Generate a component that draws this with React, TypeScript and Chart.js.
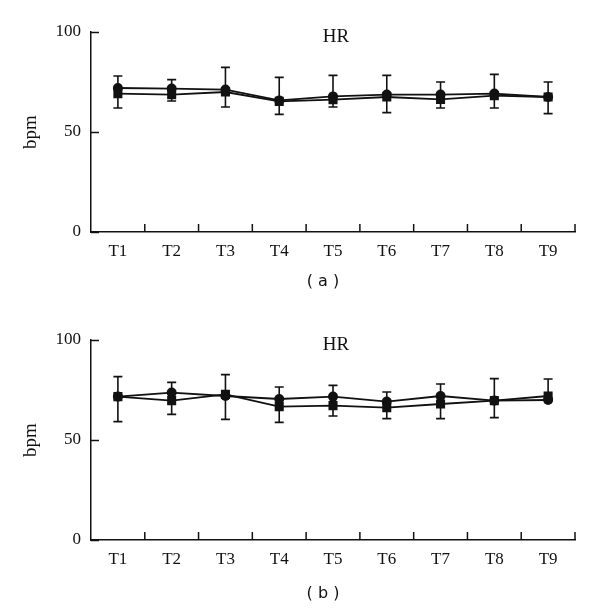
import React, { useEffect, useRef } from 'react';
import { Chart, registerables } from 'chart.js';

Chart.register(...registerables);

// ---- data ----
const categories = ['T1', 'T2', 'T3', 'T4', 'T5', 'T6', 'T7', 'T8', 'T9'];
const yTickValues = [0, 50, 100];

// panel (a)
const aCircle = [72, 71.7, 71.2, 65.8, 67.8, 68.7, 68.7, 69.2, 67.5];
const aCircleSD = [6, 4.5, 11.1, 11.5, 10.5, 9.6, 6.3, 9.6, 7.5];
const aSquare = [69.2, 68.7, 70, 65.3, 66.2, 67.5, 66.3, 68.2, 67.5];
const aSquareSD = [7.2, 3.2, 7.5, 6.5, 3.7, 7.8, 4.3, 6.2, 8.3];

// panel (b)
const bCircle = [71.7, 73.7, 72, 70.5, 71.7, 69.2, 72, 69.7, 70];
const bCircleSD = [10, 5.1, 10.7, 6, 5.6, 4.8, 6, 11, 10.5];
const bSquare = [71.7, 69.7, 72.8, 66.7, 67.2, 66.2, 68, 69.7, 72];
const bSquareSD = [12.5, 6.9, 12.5, 7.9, 5.2, 5.5, 7.3, 8.5, 1];

const SERIF = '"Liberation Serif", "DejaVu Serif", serif';
const INK = '#111';

const errorBarsPlugin = {
  id: 'errorBars',
  beforeDatasetsDraw(chart: any) {
    const { ctx } = chart;
    const ys = chart.scales.y;
    ctx.save();
    ctx.strokeStyle = INK;
    ctx.lineWidth = 1.6;
    chart.data.datasets.forEach((ds: any, di: number) => {
      const meta = chart.getDatasetMeta(di);
      meta.data.forEach((pt: any, i: number) => {
        const v = ds.data[i];
        const up = ds.errorPlus ? ds.errorPlus[i] : 0;
        const down = ds.errorMinus ? ds.errorMinus[i] : 0;
        const x = pt.x;
        const y0 = ys.getPixelForValue(v);
        const segs: number[] = [];
        if (up) segs.push(ys.getPixelForValue(v + up));
        if (down) segs.push(ys.getPixelForValue(v - down));
        segs.forEach((ye) => {
          ctx.beginPath();
          ctx.moveTo(x, y0);
          ctx.lineTo(x, ye);
          ctx.moveTo(x - 4.5, ye);
          ctx.lineTo(x + 4.5, ye);
          ctx.stroke();
        });
      });
    });
    ctx.restore();
  },
};

const decorPlugin = {
  id: 'decor',
  afterDraw(chart: any) {
    const { ctx, chartArea: ca } = chart;
    const xs = chart.scales.x;
    const ys = chart.scales.y;
    ctx.save();
    ctx.strokeStyle = INK;
    ctx.lineWidth = 1.5;
    yTickValues.forEach((v) => {
      const py = Math.round(ys.getPixelForValue(v)) + 0.5;
      ctx.beginPath();
      ctx.moveTo(ca.left, py);
      ctx.lineTo(ca.left + 8, py);
      ctx.stroke();
    });
    for (let i = 0; i < categories.length; i++) {
      const px = xs.getPixelForValue(i + 0.5);
      ctx.beginPath();
      ctx.moveTo(px, ca.bottom);
      ctx.lineTo(px, ca.bottom - 8);
      ctx.stroke();
    }
    ctx.fillStyle = INK;
    ctx.font = `19px ${SERIF}`;
    ctx.textAlign = 'center';
    ctx.textBaseline = 'middle';
    ctx.fillText('HR', (ca.left + ca.right) / 2 + 3, ca.top + 5);
    ctx.restore();
  },
};

function Panel(props: {
  circle: number[];
  circleSD: number[];
  square: number[];
  squareSD: number[];
  label: string;
  labelTop: number;
}) {
  const ref = useRef<HTMLCanvasElement | null>(null);
  useEffect(() => {
    if (!ref.current) return;
    const chart = new Chart(ref.current, {
      type: 'line',
      data: {
        labels: categories,
        datasets: [
          {
            label: 'circle',
            data: props.circle,
            errorPlus: props.circleSD,
            borderColor: INK,
            backgroundColor: INK,
            borderWidth: 1.8,
            pointStyle: 'circle',
            pointRadius: 5,
            pointBorderWidth: 0,
            pointBackgroundColor: INK,
            tension: 0,
          } as any,
          {
            label: 'square',
            data: props.square,
            errorMinus: props.squareSD,
            borderColor: INK,
            backgroundColor: INK,
            borderWidth: 1.8,
            pointStyle: 'rect',
            pointRadius: 6.4,
            pointBorderWidth: 0,
            pointBackgroundColor: INK,
            tension: 0,
          } as any,
        ],
      },
      options: {
        animation: false,
        responsive: false,
        devicePixelRatio: 1,
        layout: { padding: { top: 32, right: 25, left: 0, bottom: 0 } },
        plugins: {
          legend: { display: false },
          tooltip: { enabled: false },
          title: { display: false },
        },
        scales: {
          x: {
            type: 'category',
            offset: true,
            grid: { display: false, drawTicks: false },
            border: { display: true, color: INK, width: 1.5 },
            ticks: {
              color: INK,
              font: { family: SERIF, size: 17 },
              padding: 9,
              maxRotation: 0,
              autoSkip: false,
            },
            afterFit: (s: any) => {
              s.height = 76;
            },
          },
          y: {
            min: 0,
            max: 100,
            grid: { display: false, drawTicks: false },
            border: { display: true, color: INK, width: 1.5 },
            ticks: {
              stepSize: 50,
              color: INK,
              font: { family: SERIF, size: 17 },
              padding: 10,
            },
            title: {
              display: true,
              text: 'bpm',
              color: INK,
              font: { family: SERIF, size: 19 },
              padding: { top: 20, bottom: 0 },
            },
            afterFit: (s: any) => {
              s.width = 91;
            },
          },
        },
      } as any,
      plugins: [errorBarsPlugin, decorPlugin],
    });
    return () => chart.destroy();
  }, []);
  return (
    <div style={{ position: 'relative', width: 600, height: 308 }}>
      <canvas ref={ref} width={600} height={308} style={{ display: 'block' }} />
      <div
        style={{
          position: 'absolute',
          left: 0,
          width: 646,
          top: props.labelTop,
          textAlign: 'center',
          fontFamily: '"DejaVu Sans", Verdana, sans-serif',
          fontSize: 16,
          lineHeight: '20px',
          color: INK,
          whiteSpace: 'pre',
        }}
      >
        {props.label}
      </div>
    </div>
  );
}

export default function App() {
  return (
    <div style={{ position: 'absolute', left: 0, top: 0, width: 600, height: 616, background: '#fff' }}>
      <Panel circle={aCircle} circleSD={aCircleSD} square={aSquare} squareSD={aSquareSD} label="( a )" labelTop={271} />
      <Panel circle={bCircle} circleSD={bCircleSD} square={bSquare} squareSD={bSquareSD} label="( b )" labelTop={275} />
    </div>
  );
}
